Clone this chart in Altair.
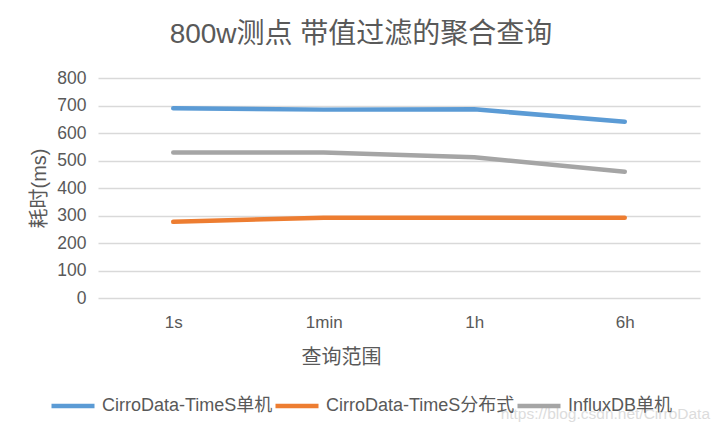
import altair as alt
import pandas as pd

categories = ["1s", "1min", "1h", "6h"]
series_names = ["CirroData-TimeS单机", "CirroData-TimeS分布式", "InfluxDB单机"]
timeS_single = [690, 685, 686, 641]
timeS_dist = [277, 292, 292, 292]
influx_single = [529, 529, 512, 459]
colors = ["#5b9bd5", "#ed7d31", "#a5a5a5"]

rows = []
for name, vals in zip(series_names, [timeS_single, timeS_dist, influx_single]):
    for c, v in zip(categories, vals):
        rows.append({"range": c, "series": name, "ms": v})
df = pd.DataFrame(rows)

FONT = "Liberation Sans, Noto Sans CJK SC, sans-serif"
GREY = "#595959"

lines = alt.Chart(df).mark_line(strokeWidth=4.5, strokeCap="round", strokeJoin="round").encode(
    x=alt.X("range:N", sort=categories, scale=alt.Scale(type="point", padding=0.5),
            axis=alt.Axis(title="查询范围", labelAngle=0, ticks=False, domain=False, grid=False,
                          labelPadding=16, labelFontSize=17, labelColor=GREY,
                          titleFontSize=20, titleFontWeight="normal", titleColor=GREY,
                          titleX=243, titleY=59, titleBaseline="middle", titleAlign="center")),
    y=alt.Y("ms:Q", scale=alt.Scale(domain=[0, 800]),
            axis=alt.Axis(title="耗时(ms)", values=[0, 100, 200, 300, 400, 500, 600, 700, 800],
                          ticks=False, domain=False, gridColor="#d9d9d9", gridWidth=1.3,
                          labelPadding=12, labelFontSize=17.5, labelColor=GREY,
                          titleFontSize=20, titleFontWeight="normal", titleColor=GREY,
                          titleX=-59, titleY=110, titleAngle=270, titleBaseline="middle",
                          titleAlign="center")),
    color=alt.Color("series:N", sort=series_names,
                    scale=alt.Scale(domain=series_names, range=colors),
                    legend=alt.Legend(title=None, orient="none", direction="horizontal",
                                      legendX=-49, legendY=304, symbolType="stroke",
                                      symbolSize=1849, symbolStrokeWidth=4.5,
                                      labelFontSize=18, labelColor=GREY, labelOffset=5,
                                      labelLimit=400, columnPadding=-10)),
)

watermark_df = pd.DataFrame({"t": ["https://blog.csdn.net/CirroData"]})
watermark = alt.Chart(watermark_df).mark_text(
    align="right", baseline="middle", fontSize=15.5, color="#dcdcdc", font=FONT
).encode(x=alt.value(612), y=alt.value(336), text="t:N")

chart = alt.layer(lines, watermark).properties(
    width=602, height=220,
    autosize=alt.AutoSizeParams(type="none"),
    padding={"left": 90, "top": 70, "right": 14, "bottom": 128},
    title=alt.TitleParams("800w测点 带值过滤的聚合查询", fontSize=28, fontWeight="normal",
                          color=GREY, anchor="middle", dx=-38, dy=-16, frame="group"),
).configure(font=FONT).configure_view(stroke=None)

chart.save("out.html", embed_options={"renderer": "svg", "actions": False})
